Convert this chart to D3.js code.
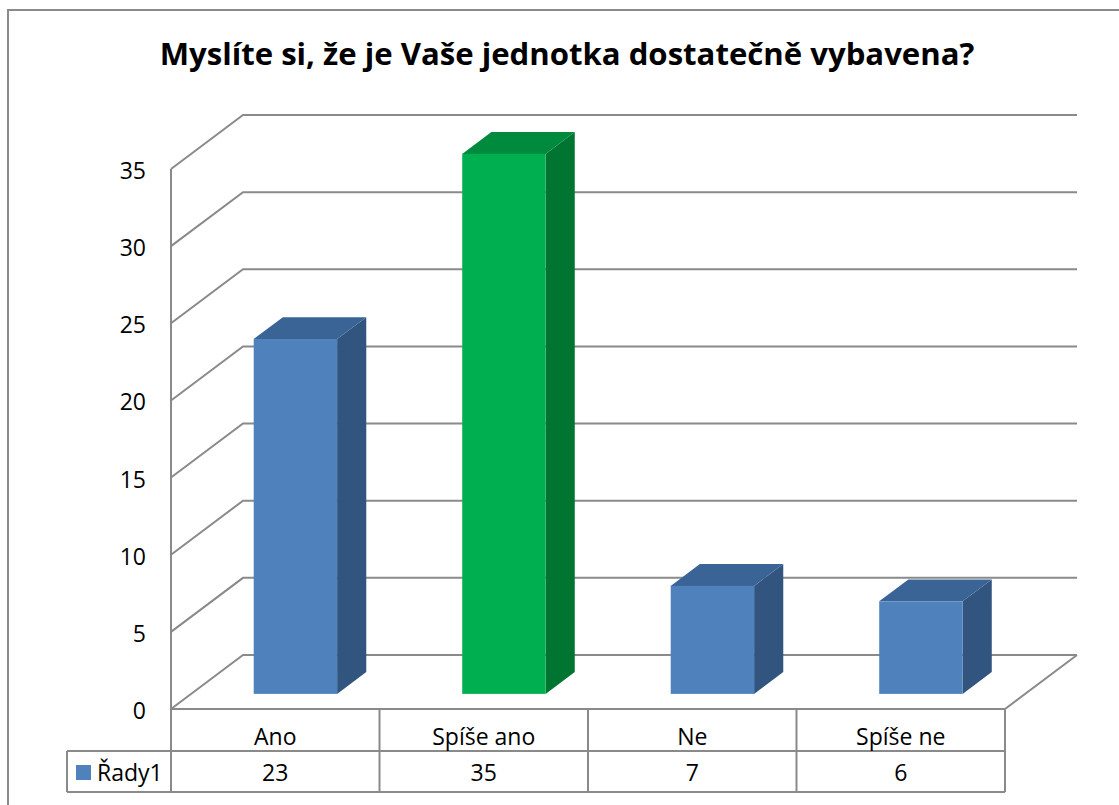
<!DOCTYPE html>
<html>
<head>
<meta charset="utf-8">
<script src="https://cdn.jsdelivr.net/npm/d3@7"></script>
<style>
  body { margin: 0; background: #fff; }
  text { font-family: "Open Sans", "Liberation Sans", sans-serif; fill: #000; }
</style>
</head>
<body>
<svg id="chart" width="1119" height="805"></svg>
<script>
// data
var categories = ["Ano", "Spíše ano", "Ne", "Spíše ne"];
var values = [23, 35, 7, 6];
var seriesName = "Řady1";
var yTicks = [0, 5, 10, 15, 20, 25, 30, 35];
var titleText = "Myslíte si, že je Vaše jednotka dostatečně vybavena?";

var svg = d3.select("#chart");
var grid = "#8a8a8a";

// outer frame
svg.append("rect").attr("x", 8).attr("y", 10).attr("width", 1200).attr("height", 900)
    .attr("fill", "none").attr("stroke", grid).attr("stroke-width", 2);

// title, sized to its width in the reference
var title = svg.append("text").attr("x", 567).attr("y", 65)
    .attr("text-anchor", "middle").attr("font-weight", "bold").attr("font-size", 28)
    .text(titleText);
var tw = title.node().getComputedTextLength();
title.attr("font-size", 28 * 815 / tw);

// 3d projection: depth 0 = front plane, 1 = back wall
var depthX = 72, depthY = -54;
var xScale = d3.scaleBand().domain(categories).range([171, 1005]);
var yScale = d3.scaleLinear().domain([0, 35]).range([709, 169]);
function proj(x, y, d){ return [x + depthX * d, y + depthY * d]; }
var pts = function(a){ return a.map(function(q){ return q.join(","); }).join(" "); };

var g = svg.append("g");

// gridlines: side wall diagonal + back wall line
yTicks.forEach(function(v){
    var y = yScale(v);
    g.append("polyline")
        .attr("points", pts([[xScale.range()[0], y], proj(xScale.range()[0], y, 1), proj(xScale.range()[1], y, 1)]))
        .attr("fill", "none").attr("stroke", grid).attr("stroke-width", 2);
});
// floor front edge and right edge
var y0 = yScale(0);
g.append("polyline")
    .attr("points", pts([[xScale.range()[0], y0], [xScale.range()[1], y0], proj(xScale.range()[1], y0, 1)]))
    .attr("fill", "none").attr("stroke", grid).attr("stroke-width", 2);
// wall front vertical edge
g.append("line").attr("x1", 171).attr("x2", 171).attr("y1", yScale(35)).attr("y2", y0)
    .attr("stroke", grid).attr("stroke-width", 2);

// y tick labels
svg.selectAll(".ytick").data(yTicks).enter().append("text")
    .attr("class", "ytick")
    .attr("x", 146).attr("y", function(d){ return yScale(d) + 2; })
    .attr("dy", "0.35em").attr("text-anchor", "end").attr("font-size", 23)
    .text(function(d){ return d; });

// bars
var d1 = 0.28, d2 = 0.685;
var colors = [
    {front: "#4F81BD", top: "#3A6496", side: "#32557F"},
    {front: "#00B050", top: "#008A3E", side: "#007532"},
    {front: "#4F81BD", top: "#3A6496", side: "#32557F"},
    {front: "#4F81BD", top: "#3A6496", side: "#32557F"}
];
var bw = xScale.bandwidth() * 0.4;
categories.forEach(function(c, i){
    var cx = xScale(c) + xScale.bandwidth() / 2;
    var xl = cx - bw / 2, xr = cx + bw / 2;
    var yt = yScale(values[i]), yb = yScale(0);
    var bar = svg.append("g");
    // side
    bar.append("polygon").attr("fill", colors[i].side)
        .attr("points", pts([proj(xr, yt, d1), proj(xr, yt, d2), proj(xr, yb, d2), proj(xr, yb, d1)]));
    // top
    bar.append("polygon").attr("fill", colors[i].top)
        .attr("points", pts([proj(xl, yt, d1), proj(xl, yt, d2), proj(xr, yt, d2), proj(xr, yt, d1)]));
    // front
    var f0 = proj(xl, yt, d1), f1 = proj(xr, yb, d1);
    bar.append("rect").attr("fill", colors[i].front)
        .attr("x", f0[0]).attr("y", f0[1]).attr("width", f1[0] - f0[0]).attr("height", f1[1] - f0[1]);
});

// data table
var tTop = 710, tMid = 751, tBot = 792, tLeft = 67;
var table = svg.append("g").attr("stroke", grid).attr("stroke-width", 2);
table.append("line").attr("x1", tLeft).attr("x2", 1005).attr("y1", tMid).attr("y2", tMid);
table.append("line").attr("x1", tLeft).attr("x2", 1005).attr("y1", tBot).attr("y2", tBot);
table.append("line").attr("x1", tLeft).attr("x2", tLeft).attr("y1", tMid).attr("y2", tBot);
table.append("line").attr("x1", 171).attr("x2", 171).attr("y1", y0).attr("y2", tBot);
categories.forEach(function(c){
    var x = xScale(c) + xScale.bandwidth();
    table.append("line").attr("x1", x).attr("x2", x).attr("y1", tTop).attr("y2", tBot);
});
svg.selectAll(".cat").data(categories).enter().append("text")
    .attr("class", "cat")
    .attr("x", function(d){ return xScale(d) + xScale.bandwidth() / 2; })
    .attr("y", 745).attr("text-anchor", "middle").attr("font-size", 23)
    .text(function(d){ return d; });
svg.selectAll(".val").data(values).enter().append("text")
    .attr("class", "val")
    .attr("x", function(d, i){ return xScale(categories[i]) + xScale.bandwidth() / 2; })
    .attr("y", 781).attr("text-anchor", "middle").attr("font-size", 23)
    .text(function(d){ return d; });
svg.append("rect").attr("x", 76).attr("y", 765).attr("width", 15).attr("height", 15).attr("fill", "#4F81BD");
svg.append("text").attr("x", 97).attr("y", 781).attr("font-size", 23).text(seriesName);
</script>
</body>
</html>
